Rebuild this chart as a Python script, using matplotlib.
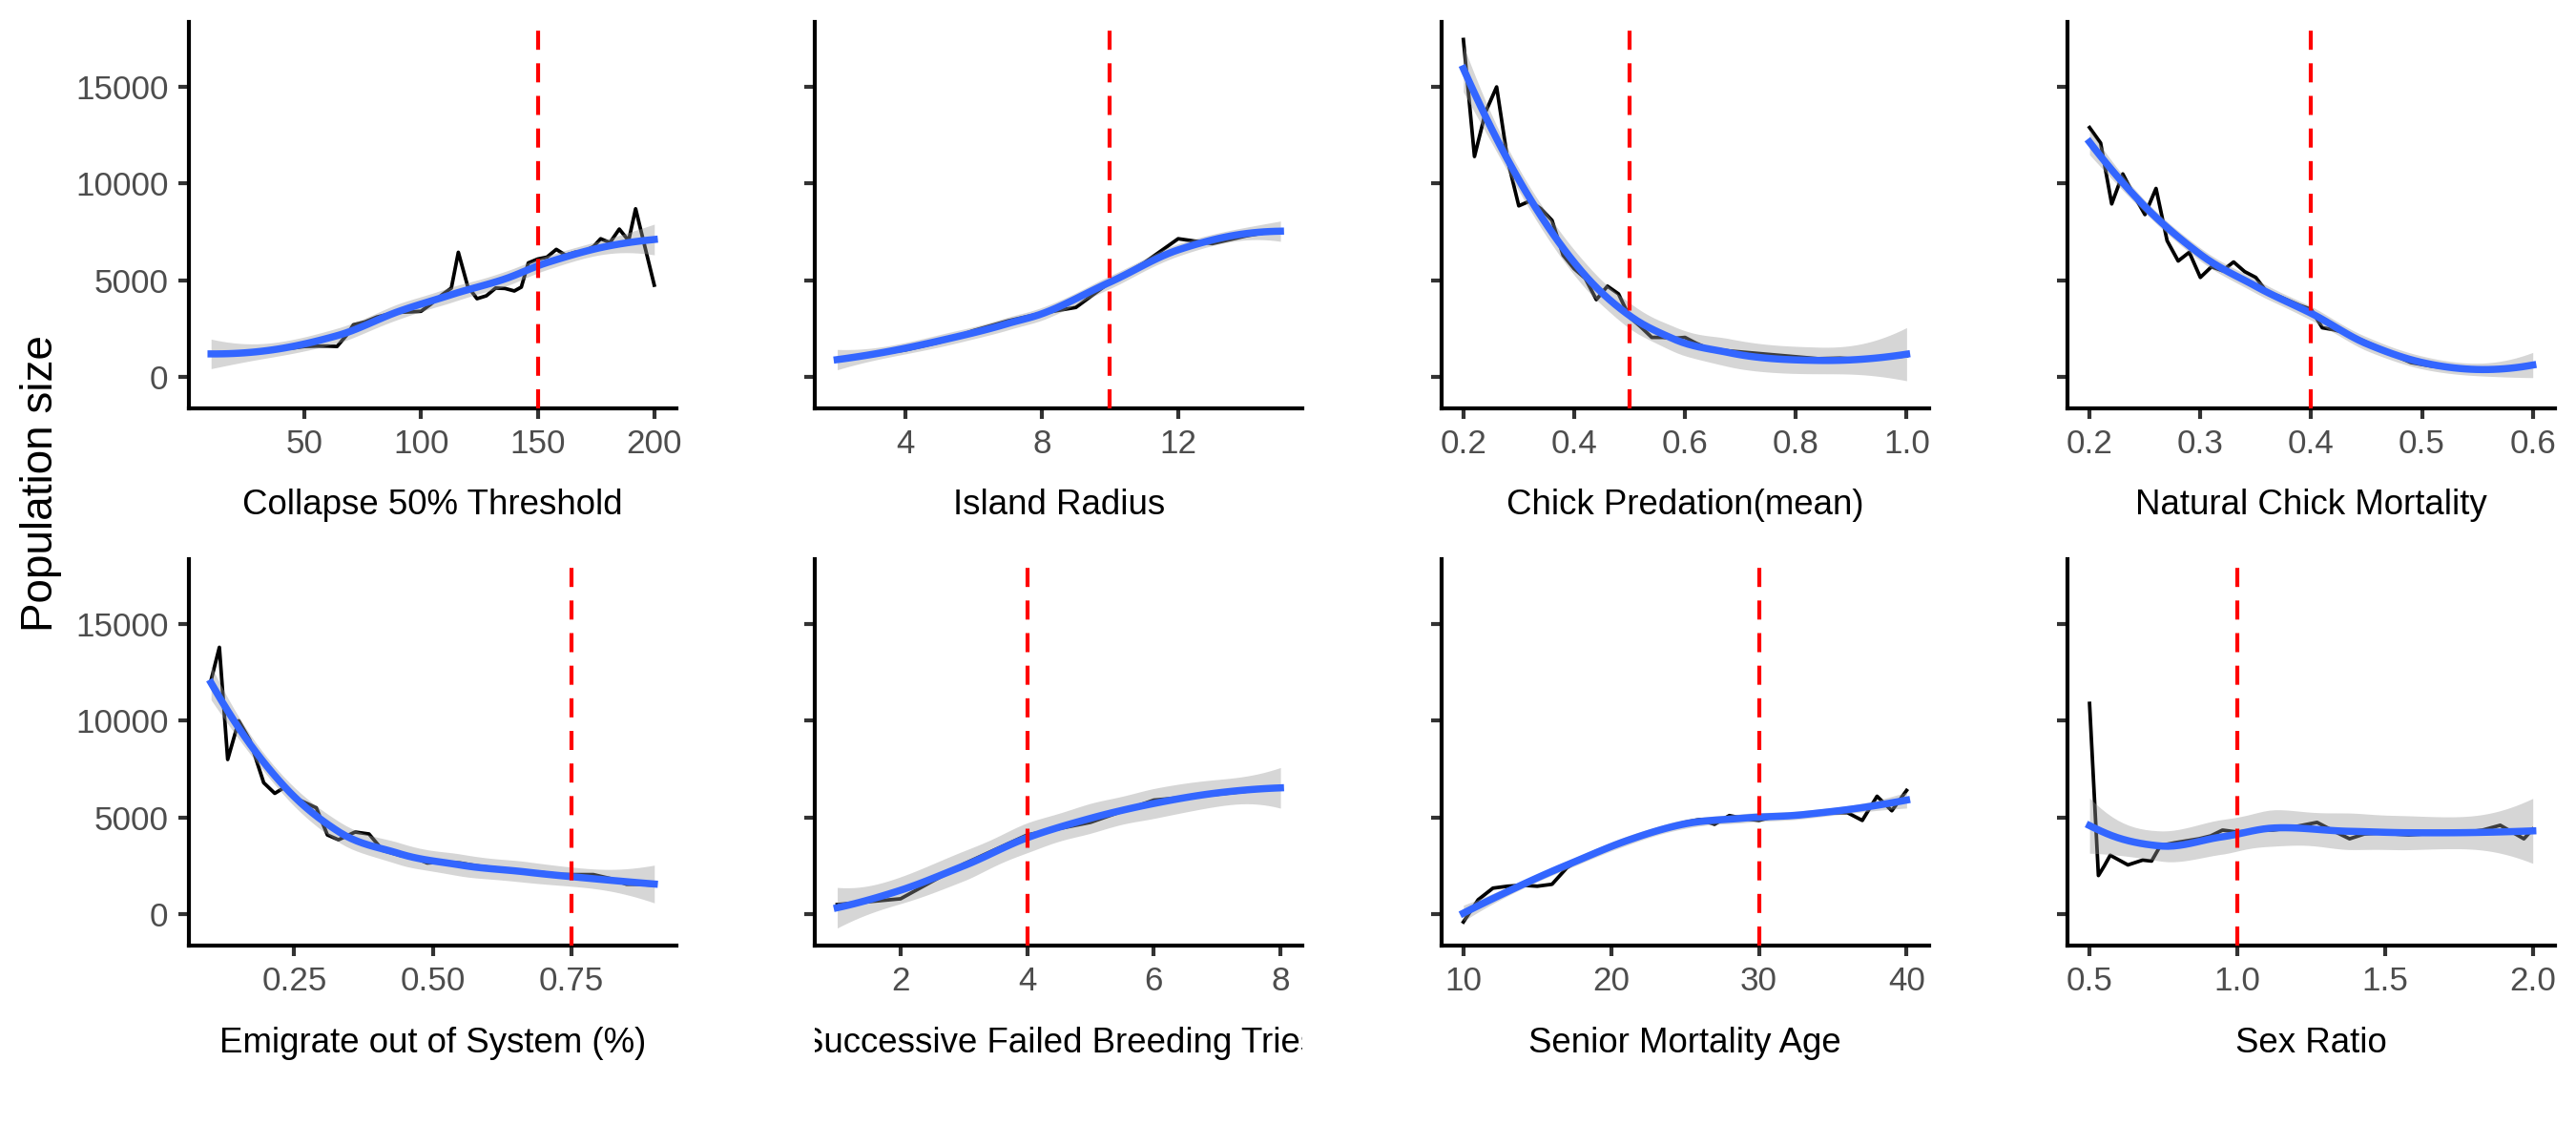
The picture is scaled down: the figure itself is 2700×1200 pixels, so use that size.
import math
import numpy as np
import matplotlib
matplotlib.use("Agg")
import matplotlib.pyplot as plt
from matplotlib.transforms import Bbox, TransformedBbox

# ---- data ----
collapse_x = [10, 15, 20, 25, 30, 35, 40, 45, 50, 55, 60, 64, 68, 71, 76, 81, 86, 91, 96, 100,
              104, 109, 113, 116, 120, 124, 128, 132, 136, 140, 143, 146, 150, 154, 158, 162,
              166, 170, 174, 177, 181, 185, 189, 192, 200]
collapse_y = [1250, 1230, 1260, 1300, 1350, 1400, 1480, 1500, 1580, 1600, 1600, 1580, 2150, 2700,
              2850, 3100, 3250, 3350, 3370, 3400, 3750, 4250, 4600, 6450, 4700, 4050, 4200, 4600,
              4580, 4450, 4650, 5900, 6100, 6200, 6600, 6300, 6450, 6500, 6750, 7150, 6950, 7650,
              7050, 8700, 4750]

radius_x = [2, 3, 4, 5, 6, 7, 8, 9, 10, 11, 12, 13, 14, 15]
radius_y = [950, 1150, 1400, 1800, 2400, 2900, 3300, 3600, 4900, 5900, 7150, 6900, 7300, 7600]

predation_x = [0.20, 0.22, 0.24, 0.26, 0.28, 0.30, 0.32, 0.34, 0.36, 0.38, 0.40, 0.42, 0.44,
               0.46, 0.48, 0.50, 0.52, 0.54, 0.56, 0.58, 0.60, 0.62, 0.64, 0.68, 0.72, 0.76,
               0.80, 0.84, 0.88, 0.92, 0.96, 1.00]
predation_y = [17450, 11400, 13700, 15000, 11200, 8850, 9100, 8700, 8100, 6300, 5600, 5100, 4000,
               4700, 4300, 3100, 2600, 2050, 2050, 2000, 2050, 1750, 1500, 1350, 1250, 1150,
               1050, 950, 980, 900, 1000, 1100]

mortality_x = [0.20, 0.21, 0.22, 0.23, 0.24, 0.25, 0.26, 0.27, 0.28, 0.29, 0.30, 0.31, 0.32,
               0.33, 0.34, 0.35, 0.36, 0.37, 0.38, 0.39, 0.40, 0.41, 0.42, 0.43, 0.44, 0.45,
               0.46, 0.47, 0.48, 0.49, 0.50, 0.51, 0.52, 0.53, 0.54, 0.55, 0.56, 0.57, 0.58,
               0.59, 0.60]
mortality_y = [12900, 12100, 8950, 10500, 9400, 8400, 9750, 7050, 6000, 6450, 5150, 5700, 5500,
               5950, 5450, 5150, 4400, 4200, 3950, 3700, 3500, 2550, 2450, 2300, 2050, 1800,
               1550, 1300, 1000, 750, 650, 550, 500, 450, 420, 400, 410, 430, 470, 550, 620]

emigrate_x = [0.10, 0.115, 0.13, 0.15, 0.17, 0.195, 0.215, 0.235, 0.26, 0.29, 0.31, 0.33, 0.36,
              0.385, 0.41, 0.44, 0.47, 0.49, 0.52, 0.55, 0.58, 0.61, 0.64, 0.67, 0.70, 0.73,
              0.76, 0.79, 0.82, 0.85, 0.875, 0.90]
emigrate_y = [12100, 13800, 8000, 10000, 9000, 6800, 6250, 6600, 5900, 5500, 4100, 3850, 4250,
              4150, 3300, 3050, 2900, 2650, 2700, 2650, 2500, 2400, 2300, 2200, 2150, 2050,
              2050, 2050, 1850, 1550, 1550, 1500]

tries_x = [1, 2, 3, 4, 5, 6, 7, 8]
tries_y = [500, 800, 2600, 4100, 4750, 5900, 6200, 6550]

senior_x = [10, 11, 12, 13, 14, 15, 16, 17, 18, 19, 20, 21, 22, 23, 24, 25, 26, 27, 28, 29, 30,
            31, 32, 33, 34, 35, 36, 37, 38, 39, 40]
senior_y = [-400, 750, 1350, 1450, 1500, 1450, 1550, 2400, 2900, 3250, 3550, 3850, 4100, 4350,
            4550, 4750, 4900, 4650, 5100, 4950, 4850, 5050, 5050, 5100, 5200, 5250, 5250, 4850,
            6100, 5350, 6400]

sexratio_x = [0.50, 0.53, 0.55, 0.57, 0.60, 0.63, 0.68, 0.71, 0.74, 0.79, 0.83, 0.87, 0.91, 0.95,
              1.00, 1.04, 1.08, 1.12, 1.17, 1.22, 1.27, 1.32, 1.38, 1.43, 1.48, 1.53, 1.58, 1.63,
              1.68, 1.73, 1.78, 1.83, 1.89, 1.97, 2.00]
sexratio_y = [10900, 2000, 2500, 3050, 2800, 2550, 2800, 2750, 3550, 3700, 3800, 3900, 4050, 4350,
              4250, 4300, 4350, 4350, 4450, 4600, 4750, 4350, 3900, 4150, 4200, 4150, 4100, 4150,
              4200, 4200, 4250, 4350, 4600, 3900, 4400]

titles = ["Collapse 50% Threshold", "Island Radius", "Chick Predation(mean)",
          "Natural Chick Mortality", "Emigrate out of System (%)",
          "Successive Failed Breeding Tries", "Senior Mortality Age", "Sex Ratio"]
defaults = [150, 10, 0.5, 0.4, 0.75, 4, 30, 1.0]
xticks = [[50, 100, 150, 200], [4, 8, 12], [0.2, 0.4, 0.6, 0.8, 1.0],
          [0.2, 0.3, 0.4, 0.5, 0.6], [0.25, 0.50, 0.75], [2, 4, 6, 8],
          [10, 20, 30, 40], [0.5, 1.0, 1.5, 2.0]]
xtick_fmt = ["{:.0f}", "{:.0f}", "{:.1f}", "{:.1f}", "{:.2f}", "{:.0f}", "{:.0f}", "{:.1f}"]
yticks = [0, 5000, 10000, 15000]

series = [(collapse_x, collapse_y), (radius_x, radius_y), (predation_x, predation_y),
          (mortality_x, mortality_y), (emigrate_x, emigrate_y), (tries_x, tries_y),
          (senior_x, senior_y), (sexratio_x, sexratio_y)]


def t_quantile(df, p=0.975):
    t = np.linspace(0, 80, 80001)
    c = math.gamma((df + 1) / 2) / (math.sqrt(df * math.pi) * math.gamma(df / 2))
    pdf = c * (1 + t ** 2 / df) ** (-(df + 1) / 2)
    cdf = 0.5 + np.concatenate([[0], np.cumsum((pdf[1:] + pdf[:-1]) / 2 * np.diff(t))])
    return np.interp(p, cdf, t)


def loess(x, y, grid, span=0.75):
    # local quadratic fit with tricube weights, evaluated on kd-tree vertices and
    # blended with cubic Hermite pieces (what R's loess does by default)
    x = np.asarray(x, float)
    y = np.asarray(y, float)
    n = len(x)
    q = int(np.floor(n * span))

    def local(x0):
        d = np.abs(x - x0)
        h = np.sort(d)[q - 1] * 1.0001
        w = (1 - np.clip(d / h, 0, 1) ** 3) ** 3
        X = np.column_stack([np.ones(n), x - x0, (x - x0) ** 2])
        XtW = X.T * w
        op = np.linalg.solve(XtW @ X, XtW)
        return op[0], op[1]

    xs = np.sort(x)
    fc = max(1, int(np.floor(n * span * 0.2)))
    margin = 0.005 * (xs[-1] - xs[0])
    verts = {xs[0] - margin, xs[-1] + margin}

    def split(a, b):
        if b - a + 1 <= fc:
            return
        m = (a + b) // 2
        verts.add(xs[m])
        split(a, m)
        split(m + 1, b)

    split(0, n - 1)
    V = np.array(sorted(verts))
    ops = [local(v) for v in V]
    R0 = np.array([o[0] for o in ops])
    R1 = np.array([o[1] for o in ops])

    def rows(pts):
        pts = np.asarray(pts, float)
        j = np.clip(np.searchsorted(V, pts, side='right') - 1, 0, len(V) - 2)
        a, b = V[j], V[j + 1]
        hl = b - a
        t = (pts - a) / hl
        h00 = 2 * t ** 3 - 3 * t ** 2 + 1
        h10 = t ** 3 - 2 * t ** 2 + t
        h01 = -2 * t ** 3 + 3 * t ** 2
        h11 = t ** 3 - t ** 2
        return (h00[:, None] * R0[j] + (h10 * hl)[:, None] * R1[j]
                + h01[:, None] * R0[j + 1] + (h11 * hl)[:, None] * R1[j + 1])

    L = rows(x)
    M = np.eye(n) - L
    MtM = M.T @ M
    d1 = np.trace(MtM)
    d2 = np.trace(MtM @ MtM)
    s = np.sqrt(np.sum((M @ y) ** 2) / d1)
    G = rows(grid)
    fit = G @ y
    se = s * np.sqrt(np.sum(G ** 2, axis=1))
    tq = t_quantile(d1 ** 2 / d2)
    return fit, fit - tq * se, fit + tq * se


plt.rcParams['font.family'] = ['Liberation Sans', 'DejaVu Sans']
plt.rcParams['lines.scale_dashes'] = False

smooths = []
for x, y in series:
    grid = np.linspace(min(x), max(x), 80)
    smooths.append((grid,) + loess(x, y, grid))

lo = min(min(min(y) for _, y in series), min(s[2].min() for s in smooths))
hi = max(max(max(y) for _, y in series), max(s[3].max() for s in smooths))
ylim = (lo - 0.05 * (hi - lo), hi + 0.05 * (hi - lo))

fig = plt.figure(figsize=(9, 4), dpi=300)
W, H = 2700, 1200
for i, (x, y) in enumerate(series):
    row, col = divmod(i, 4)
    left = 198 + 656.3 * col
    top = 23 if row == 0 else 586
    ax = fig.add_axes([left / W, 1 - (top + 405) / H, 511 / W, 405 / H])
    grid, fit, lower, upper = smooths[i]

    ax.plot(x, y, color='black', lw=0.9, zorder=2)
    ax.fill_between(grid, lower, upper, color='#999999', alpha=0.4, lw=0, zorder=3)
    ax.plot(grid, fit, color='#3366FF', lw=1.8, zorder=4)
    ax.axvline(defaults[i], color='#FF0000', lw=1.0, dashes=(4.8, 3.4), zorder=5)

    xr = max(x) - min(x)
    ax.set_xlim(min(x) - 0.05 * xr, max(x) + 0.05 * xr)
    ax.set_ylim(*ylim)
    ax.set_xticks(xticks[i])
    ax.set_xticklabels([xtick_fmt[i].format(v) for v in xticks[i]])
    ax.set_yticks(yticks)
    if col == 0:
        ax.set_yticklabels([str(v) for v in yticks])
    else:
        ax.set_yticklabels([])

    for side in ['top', 'right']:
        ax.spines[side].set_visible(False)
    for side in ['left', 'bottom']:
        ax.spines[side].set_linewidth(1.0)
        ax.spines[side].set_color('black')
    ax.tick_params(length=2.75, width=1.0, color='#333333', labelcolor='#4D4D4D',
                   labelsize=8.4, pad=2.4)

    # x title, clipped to the panel width like the original
    base = 539 if row == 0 else 1103
    t = fig.text((left + 255.5) / W, 1 - base / H, titles[i], ha='center', va='baseline',
                 fontsize=8.8, color='black')
    t.set_clip_box(TransformedBbox(Bbox([[left / W, 0], [(left + 511) / W, 1]]), fig.transFigure))
    t.set_clip_on(True)

fig.text(43 / W, 1 - 507 / H, 'Population size', rotation=90, ha='center', va='center',
         fontsize=11, color='black')

fig.savefig('out.png', dpi=300)
